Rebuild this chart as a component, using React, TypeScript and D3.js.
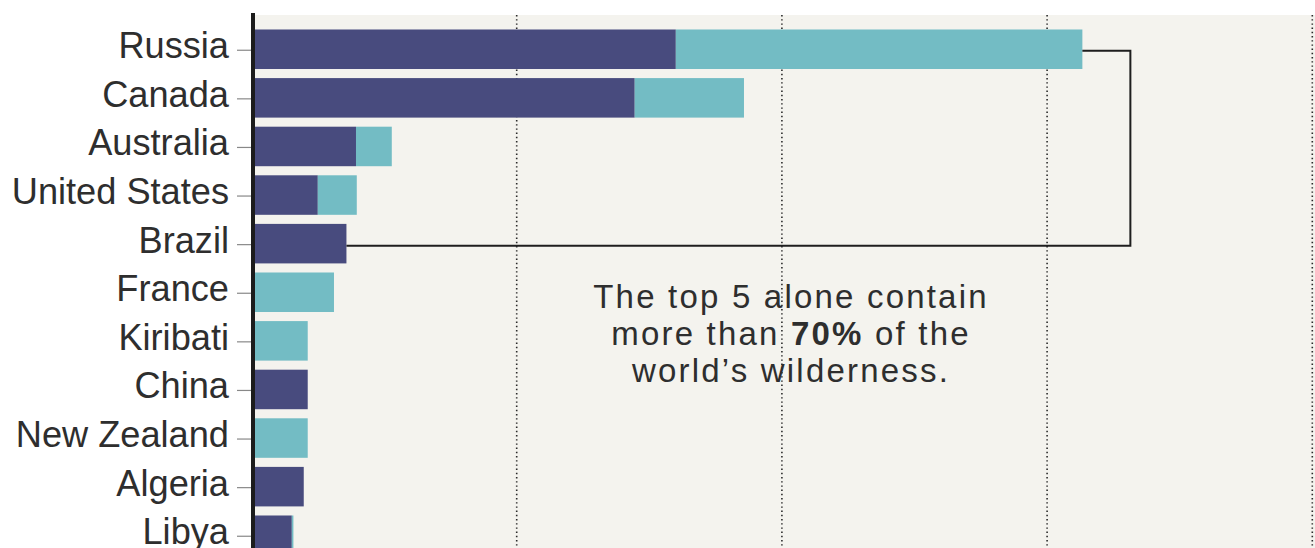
import React from "react";
import * as d3 from "d3";

const countries = [
  "Russia",
  "Canada",
  "Australia",
  "United States",
  "Brazil",
  "France",
  "Kiribati",
  "China",
  "New Zealand",
  "Algeria",
  "Libya",
];
// wilderness area (million km², approx.) — terrestrial (dark) and marine (light)
const terrestrial = [1.6, 1.445, 0.394, 0.25, 0.358, 0, 0, 0.212, 0, 0.197, 0.152];
const marine = [1.533, 0.412, 0.135, 0.147, 0, 0.311, 0.212, 0, 0.212, 0, 0.006];
const gridTicks = [1, 2, 3, 4];
const noteLines = [
  [{ t: "The top 5 alone contain", b: false }],
  [
    { t: "more than ", b: false },
    { t: "70%", b: true },
    { t: " of the", b: false },
  ],
  [{ t: "world\u2019s wilderness.", b: false }],
];

const W = 1315;
const H = 548;
const DARK = "#484b7e";
const LIGHT = "#73bcc4";
const BG = "#f4f3ee";
const FONT = "'Liberation Sans', Arial, sans-serif";

export default function App() {
  const x = d3.scaleLinear().domain([0, 1]).range([251.5, 516.7]);
  const y = d3
    .scaleBand<string>()
    .domain(countries)
    .range([24.95, 24.95 + 48.6 * countries.length])
    .paddingInner(0.187)
    .paddingOuter(0.0935);
  const bw = y.bandwidth();
  const cy = (c: string) => (y(c) as number) + bw / 2;

  const russiaEnd = x(terrestrial[0] + marine[0]);
  const brazilEnd = x(terrestrial[4] + marine[4]);
  const bracketX = russiaEnd + 48;
  const yTop = cy(countries[0]) + 1.5;
  const yBot = cy(countries[4]) + 2;

  return (
    <div style={{ position: "absolute", left: 0, top: 0 }}>
      <svg width={W} height={H} style={{ display: "block", background: "#fff" }}>
        <rect x={255} y={15} width={W - 255} height={H - 15} fill={BG} />
        {gridTicks.map((t) => (
          <line
            key={t}
            x1={x(t)}
            x2={x(t)}
            y1={15}
            y2={H}
            stroke="#2a2a2a"
            strokeWidth={1.6}
            strokeDasharray="1.4,2.8"
          />
        ))}
        {countries.map((c, i) => (
          <g key={c}>
            {terrestrial[i] > 0 && (
              <rect
                x={x(0)}
                y={y(c)}
                width={x(terrestrial[i]) - x(0)}
                height={bw}
                fill={DARK}
              />
            )}
            {marine[i] > 0 && (
              <rect
                x={x(terrestrial[i])}
                y={y(c)}
                width={x(terrestrial[i] + marine[i]) - x(terrestrial[i])}
                height={bw}
                fill={LIGHT}
              />
            )}
            <line x1={237} x2={251} y1={cy(c) + 1} y2={cy(c) + 1} stroke="#888" strokeWidth={1.2} />
            <text
              x={229}
              y={cy(c) + 8.9}
              textAnchor="end"
              fontFamily={FONT}
              fontSize={36.2}
              fill="#2e2e2e"
            >
              {c}
            </text>
          </g>
        ))}
        <line x1={253} x2={253} y1={13} y2={H} stroke="#1c1c1c" strokeWidth={4} />
        <path
          d={`M${russiaEnd},${yTop}H${bracketX}V${yBot}H${brazilEnd}`}
          fill="none"
          stroke="#1e1e1e"
          strokeWidth={2}
        />
        {noteLines.map((line, i) => (
          <text
            key={i}
            x={791}
            y={308 + i * 37.2}
            textAnchor="middle"
            fontFamily={FONT}
            fontSize={33}
            letterSpacing={2.2}
            fill="#2e2e2e"
          >
            {line.map((s, j) => (
              <tspan key={j} fontWeight={s.b ? "bold" : "normal"}>
                {s.t}
              </tspan>
            ))}
          </text>
        ))}
      </svg>
    </div>
  );
}
